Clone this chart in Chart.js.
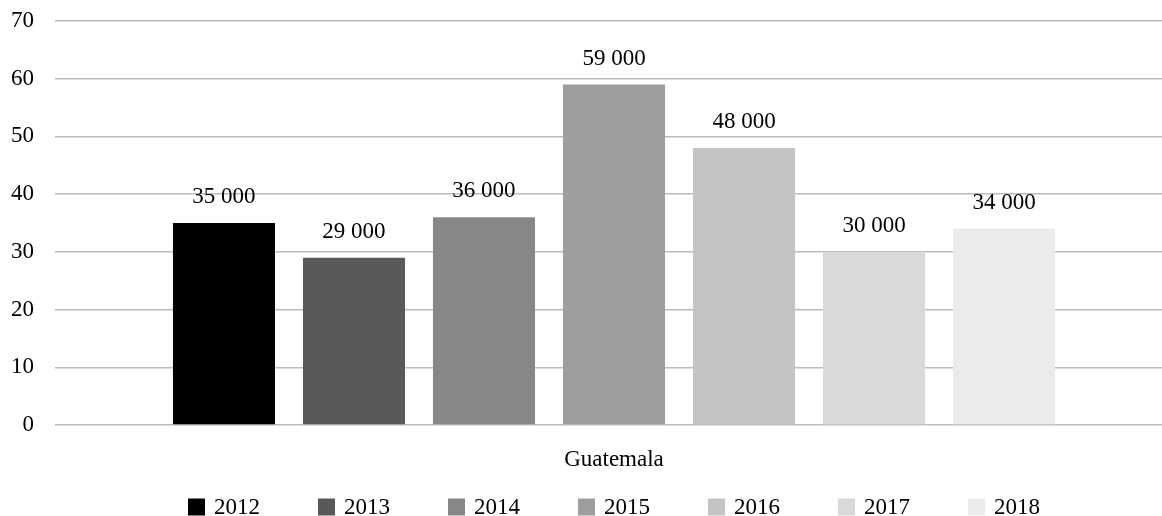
<!DOCTYPE html>
<html lang="es">
<head>
    <meta charset="UTF-8">
    <title>Guatemala 2012-2018</title>
    <style>
        body { margin: 0; background: #fff; overflow: hidden; }
        .chart-container { width: 1173px; height: 516px; }
    </style>
    <script src="https://cdn.jsdelivr.net/npm/chart.js"></script>
</head>
<body>
    <div class="chart-container">
        <canvas id="barChart"></canvas>
    </div>

    <script>
        const categories = ['Guatemala'];
        const years = ['2012', '2013', '2014', '2015', '2016', '2017', '2018'];
        const values = [35, 29, 36, 59, 48, 30, 34];
        const yTicks = [0, 10, 20, 30, 40, 50, 60, 70];
        const colors = ['#000000', '#595959', '#878787', '#9e9e9e', '#c4c4c4', '#d9d9d9', '#ebebeb'];

        const fontFamily = '"Liberation Serif", "DejaVu Serif", serif';
        const fontSize = 23;

        // value labels above each bar, e.g. "35 000"
        const barLabels = {
            id: 'barLabels',
            afterDatasetsDraw(chart) {
                const ctx = chart.ctx;
                ctx.save();
                ctx.font = fontSize + 'px ' + fontFamily;
                ctx.fillStyle = '#000';
                ctx.textAlign = 'center';
                ctx.textBaseline = 'middle';
                chart.data.datasets.forEach((ds, i) => {
                    const meta = chart.getDatasetMeta(i);
                    meta.data.forEach((bar, j) => {
                        ctx.fillText(ds.data[j] + ' 000', bar.x, bar.y - 26);
                    });
                });
                ctx.restore();
            }
        };

        // single-row legend under the axis, wide gaps between the years
        const legendRow = {
            id: 'legendRow',
            afterDraw(chart) {
                const ctx = chart.ctx;
                const box = 17, gap = 9, spacing = 58;
                ctx.save();
                ctx.font = fontSize + 'px ' + fontFamily;
                const items = chart.data.datasets.map(ds => ({
                    text: ds.label,
                    color: ds.backgroundColor,
                    w: box + gap + ctx.measureText(ds.label).width
                }));
                const total = items.reduce((s, it) => s + it.w, 0) + spacing * (items.length - 1);
                let x = (chart.chartArea.left + chart.chartArea.right) / 2 - total / 2;
                const y = chart.height - 9;
                ctx.textBaseline = 'middle';
                ctx.textAlign = 'left';
                items.forEach(it => {
                    ctx.fillStyle = it.color;
                    ctx.fillRect(x, y - box / 2, box, box);
                    ctx.fillStyle = '#000';
                    ctx.fillText(it.text, x + box + gap, y + 1);
                    x += it.w + spacing;
                });
                ctx.restore();
            }
        };

        const datasets = years.map((year, i) => ({
            label: year,
            data: [values[i]],
            backgroundColor: colors[i],
            borderWidth: 0,
            barPercentage: 0.785,
            categoryPercentage: 0.814
        }));

        new Chart(document.getElementById('barChart').getContext('2d'), {
            type: 'bar',
            data: { labels: categories, datasets: datasets },
            plugins: [barLabels, legendRow],
            options: {
                responsive: true,
                maintainAspectRatio: false,
                animation: false,
                layout: { padding: { left: 9, right: 0, top: 0, bottom: 42 } },
                plugins: {
                    tooltip: { enabled: false },
                    legend: { display: false }
                },
                scales: {
                    x: {
                        grid: { display: false, drawTicks: false },
                        border: { display: false },
                        ticks: {
                            color: '#000',
                            font: { family: fontFamily, size: fontSize },
                            padding: 21
                        },
                        afterFit(axis) {
                            axis.height = 49;
                        }
                    },
                    y: {
                        min: 0,
                        max: 70,
                        afterBuildTicks(axis) {
                            axis.ticks = yTicks.map(v => ({ value: v }));
                        },
                        grid: { color: '#bcbcbc', lineWidth: 1.5, drawTicks: false },
                        border: { display: false },
                        ticks: {
                            color: '#000',
                            font: { family: fontFamily, size: fontSize },
                            padding: 21
                        },
                        afterFit(axis) {
                            axis.width = 46;
                            axis.paddingTop = 21;
                            axis.paddingBottom = 0;
                        }
                    }
                }
            }
        });
    </script>
</body>
</html>
